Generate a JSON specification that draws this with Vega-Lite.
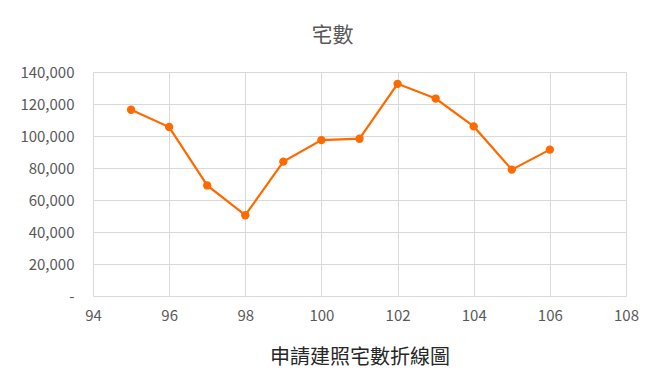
{
  "$schema": "https://vega.github.io/schema/vega-lite/v6.json",
  "autosize": "none",
  "width": 533,
  "height": 224,
  "padding": {"left": 93, "top": 72, "right": 35, "bottom": 78},
  "background": "white",
  "config": {
    "font": "Noto Sans CJK TC",
    "view": {"stroke": null},
    "axis": {
      "gridColor": "#d9d9d9",
      "gridWidth": 1,
      "labelColor": "#595959",
      "labelFontSize": 15,
      "labelFont": "Noto Sans CJK TC",
      "ticks": false,
      "domain": false
    }
  },
  "title": {
    "text": "宅數",
    "fontSize": 21,
    "fontWeight": "normal",
    "color": "#595959",
    "font": "Noto Sans CJK TC",
    "anchor": "middle",
    "frame": "group",
    "dx": -27,
    "offset": 19
  },
  "data": {
    "values": [
      {"year": 95, "count": 116400},
      {"year": 96, "count": 105600},
      {"year": 97, "count": 69100},
      {"year": 98, "count": 50500},
      {"year": 99, "count": 84000},
      {"year": 100, "count": 97400},
      {"year": 101, "count": 98300},
      {"year": 102, "count": 132600},
      {"year": 103, "count": 123400},
      {"year": 104, "count": 106000},
      {"year": 105, "count": 79000},
      {"year": 106, "count": 91500}
    ]
  },
  "mark": {"type": "line", "color": "#ff6a00", "strokeWidth": 2.2, "point": {"filled": true, "size": 70, "color": "#ff6a00", "opacity": 1}},
  "encoding": {
    "x": {
      "field": "year",
      "type": "quantitative",
      "scale": {"domain": [94, 108], "nice": false, "zero": false},
      "axis": {
        "values": [94, 96, 98, 100, 102, 104, 106, 108],
        "labelFlush": false,
        "labelPadding": 12,
        "title": "申請建照宅數折線圖",
        "titleFontSize": 20,
        "titleFontWeight": "normal",
        "titleColor": "#262626",
        "titlePadding": 24,
        "titleFont": "Noto Sans CJK TC"
      }
    },
    "y": {
      "field": "count",
      "type": "quantitative",
      "scale": {"domain": [0, 140000], "nice": false},
      "axis": {
        "values": [0, 20000, 40000, 60000, 80000, 100000, 120000, 140000],
        "labelExpr": "datum.value == 0 ? '-' : format(datum.value, ',')",
        "labelPadding": 19,
        "labelFlush": false,
        "title": null
      }
    }
  }
}
